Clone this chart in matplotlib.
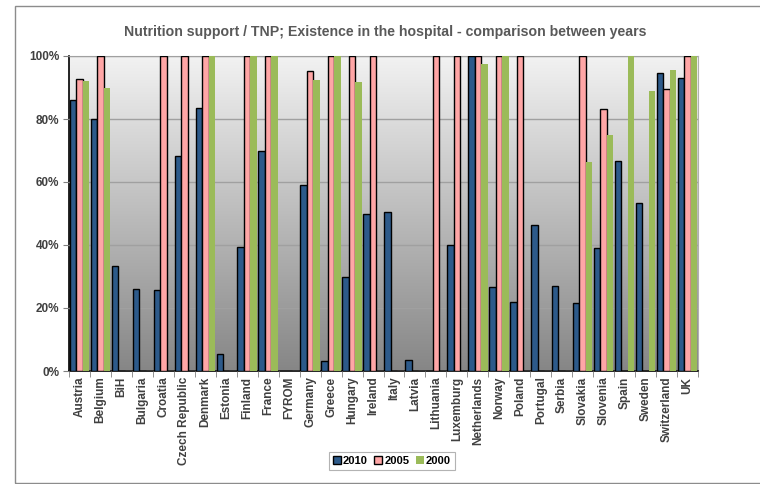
#Importing libraries
import numpy as np
import matplotlib
matplotlib.use('Agg')
import matplotlib.pyplot as plt
from matplotlib.patches import Rectangle

plt.rcParams['font.family'] = ['Liberation Sans', 'DejaVu Sans']

#Data (percent)
countries = ['Austria', 'Belgium', 'BiH', 'Bulgaria', 'Croatia', 'Czech Republic',
             'Denmark', 'Estonia', 'Finland', 'France', 'FYROM', 'Germany', 'Greece',
             'Hungary', 'Ireland', 'Italy', 'Latvia', 'Lithuania', 'Luxemburg',
             'Netherlands', 'Norway', 'Poland', 'Portugal', 'Serbia', 'Slovakia',
             'Slovenia', 'Spain', 'Sweden', 'Switzerland', 'UK']
y2010 = [86.1, 80.0, 33.2, 26.0, 25.6, 68.3, 83.4, 5.5, 39.4, 70.0, 0, 59.1, 3.2,
         29.8, 50.0, 50.5, 3.6, 0, 40.0, 100, 26.6, 21.8, 46.2, 26.9, 21.5,
         39.1, 66.7, 53.3, 94.5, 92.9]
y2005 = [92.8, 100, 0, 0, 100, 100, 100, 0, 100, 100, 0, 95.2, 100,
         100, 100, 0, 0, 100, 100, 100, 100, 100, 0, 0, 100,
         83.3, 0, 0, 89.5, 100]
y2000 = [92.1, 89.9, 0, 0, 0, 0, 100, 0, 100, 100, 0, 92.4, 100,
         91.6, 0, 0, 0, 0, 0, 97.6, 100, 0, 0, 0, 66.5,
         74.9, 100, 88.8, 95.5, 100]
series_names = ['2010', '2005', '2000']
yticks = [0, 20, 40, 60, 80, 100]

fig = plt.figure(figsize=(7.6, 4.84), dpi=100)

#Outer chart frame (right edge runs off the picture)
fig.patches.append(Rectangle((15 / 760, 0.002), 1.1, 1 - 6 / 484 - 0.002,
                             transform=fig.transFigure, fill=False,
                             edgecolor='#8c8c8c', linewidth=1.0))

ax = fig.add_axes([69 / 760, 1 - 371 / 484, 629 / 760, 315 / 484])

#Gradient background of the plot area: dark at the bottom, light at the top
grad = np.linspace(0, 1, 256).reshape(-1, 1)
bg = matplotlib.colors.LinearSegmentedColormap.from_list('bg', ['#868686', '#f2f2f2'])
ax.imshow(grad, cmap=bg, aspect='auto', origin='lower',
          extent=(-0.5, len(countries) - 0.5, 0, 100), zorder=0)

x = np.arange(len(countries))
w = 0.31
ax.bar(x - w, y2010, w, color='#2d5a8a', edgecolor='black', linewidth=1.0,
       label=series_names[0], zorder=3)
ax.bar(x, y2005, w, color='#ffa6a6', edgecolor='black', linewidth=1.0,
       label=series_names[1], zorder=3)
ax.bar(x + w, y2000, w, color='#9bbb59', linewidth=0,
       label=series_names[2], zorder=3)

ax.set_xlim(-0.5, len(countries) - 0.5)
ax.set_ylim(0, 100)
ax.set_yticks(yticks)
ax.set_yticklabels([str(t) + '%' for t in yticks], fontsize=8.5,
                   fontweight='bold', color='#404040')
ax.yaxis.grid(True, color='#a0a0a0', linewidth=1.0, zorder=1)
ax.set_axisbelow(False)

ax.set_xticks(x)
ax.set_xticklabels(countries, rotation=90, fontsize=8.5, fontweight='bold',
                   color='#404040')
ax.set_xticks(np.arange(-0.5, len(countries), 1), minor=True)
ax.tick_params(axis='x', which='major', length=0, pad=4)
ax.tick_params(axis='x', which='minor', length=4, color='#808080', direction='out')
ax.tick_params(axis='y', length=4, color='#808080', direction='out', pad=3)

for s in ['top', 'right']:
    ax.spines[s].set_color('#b0b0b0')
for s in ['left', 'bottom']:
    ax.spines[s].set_color('black')
    ax.spines[s].set_linewidth(1.2)

fig.text(385 / 760, 1 - 32 / 484,
         'Nutrition support / TNP; Existence in the hospital - comparison between years',
         ha='center', va='center', fontsize=10.2, fontweight='bold', color='#595959')

leg = fig.legend(loc='center', bbox_to_anchor=(392 / 760, 1 - 461 / 484), ncol=3,
                 prop={'size': 8, 'weight': 'bold'}, frameon=True, fancybox=False,
                 handlelength=0.7, handleheight=0.7, handletextpad=0.2,
                 columnspacing=0.6, borderpad=0.35)
leg.get_frame().set_edgecolor('#a0a0a0')
leg.get_frame().set_linewidth(0.8)

plt.savefig('out.png', dpi=100)
